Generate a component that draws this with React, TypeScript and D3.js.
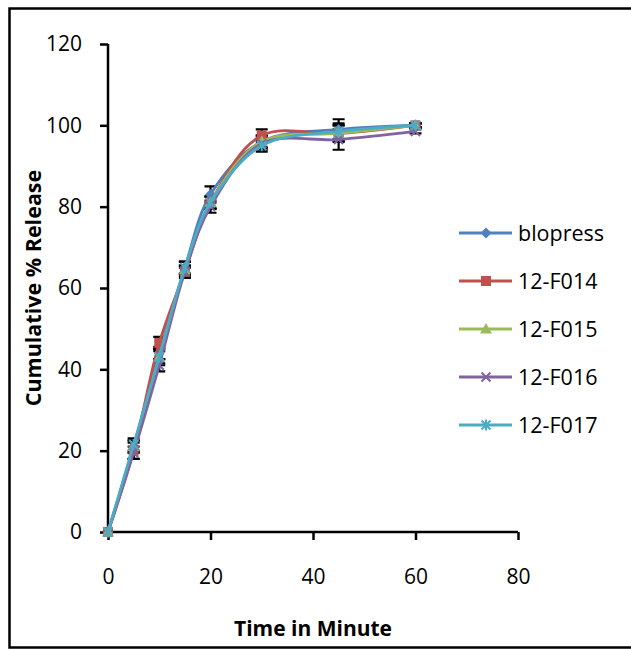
import { useEffect, useRef } from 'react';
import * as d3 from 'd3';

const times = [0, 5, 10, 15, 20, 30, 45, 60];
const seriesNames = ['blopress', '12-F014', '12-F015', '12-F016', '12-F017'];
const blopress = [0, 21, 44, 65, 83, 96, 99, 100];
const f014 = [0, 20, 46.5, 64, 81, 97.5, 98, 100];
const f015 = [0, 21, 43, 64.5, 81, 96, 98, 100];
const f016 = [0, 19.5, 41, 64, 80, 95.5, 96.5, 98.5];
const f017 = [0, 21.5, 43, 65, 81, 95, 98.5, 100];
const blopressErr = [0, 1.5, 1.5, 1.5, 2, 1.5, 2.5, 0.5];
const f014Err = [0, 2, 1.5, 1.5, 1.5, 1.5, 2, 0.5];
const f015Err = [0, 1.5, 1.5, 1, 1.5, 1.5, 2, 0.5];
const f016Err = [0, 1.5, 1.5, 1, 1.5, 1.5, 2.5, 0.5];
const f017Err = [0, 1.5, 2, 1.5, 1.5, 1.5, 2, 0.5];
const yTicks = [0, 20, 40, 60, 80, 100, 120];
const xTicks = [0, 20, 40, 60, 80];

const colors = ['#4F81BD', '#C0504D', '#9BBB59', '#8064A2', '#4BACC6'];
const markers = ['diamond', 'square', 'triangle', 'x', 'star'];

export default function App() {
  const svgRef = useRef<SVGSVGElement>(null);

  useEffect(() => {
    const svg = d3.select(svgRef.current);
    svg.selectAll('*').remove();

    const width = 631;
    const height = 649;
    const font = '"Open Sans", Lato, sans-serif';

    svg.attr('width', width).attr('height', height);

    // outer frame
    svg.append('rect')
      .attr('x', 9.5).attr('y', 8.5)
      .attr('width', 640).attr('height', 639)
      .attr('fill', 'white')
      .attr('stroke', '#000').attr('stroke-width', 2.5);

    const x = d3.scaleLinear().domain([0, 80]).range([108, 518]);
    const y = d3.scaleLinear().domain([0, 120]).range([532, 44]);

    const g = svg.append('g');

    // axes
    const xAxis = g.append('g')
      .attr('transform', `translate(0,${y(0)})`)
      .call(d3.axisBottom(x).tickValues(xTicks).tickSize(8).tickPadding(29));
    const yAxis = g.append('g')
      .attr('transform', `translate(${x(0)},0)`)
      .call(d3.axisLeft(y).tickValues(yTicks).tickSize(8).tickPadding(18));
    [xAxis, yAxis].forEach(a => {
      a.select('.domain').attr('stroke', '#000').attr('stroke-width', 2.5);
      a.selectAll('.tick line').attr('stroke', '#000').attr('stroke-width', 2.5);
      a.selectAll('.tick text')
        .attr('fill', '#000')
        .style('font-family', font)
        .style('font-size', '21px');
    });
    yAxis.select('.domain').attr('d', `M0,${y(120)}H0V${y(0)}`);
    xAxis.select('.domain').attr('d', `M${x(0)},0H${x(80)}`);

    const allSeries = [
      { name: seriesNames[0], values: blopress, err: blopressErr },
      { name: seriesNames[1], values: f014, err: f014Err },
      { name: seriesNames[2], values: f015, err: f015Err },
      { name: seriesNames[3], values: f016, err: f016Err },
      { name: seriesNames[4], values: f017, err: f017Err },
    ];

    // error bars
    const eb = g.append('g');
    allSeries.forEach(s => {
      s.values.forEach((v, i) => {
        const e = s.err[i];
        if (!e) return;
        const cx = x(times[i]);
        eb.append('path')
          .attr('d', `M${cx},${y(v - e)}V${y(v + e)}M${cx - 6},${y(v - e)}H${cx + 6}M${cx - 6},${y(v + e)}H${cx + 6}`)
          .attr('stroke', '#000').attr('stroke-width', 2.2).attr('fill', 'none');
      });
    });

    const line = d3.line<number>()
      .x((_, i) => x(times[i]))
      .y(d => y(d))
      .curve(d3.curveCatmullRom.alpha(0.5));

    const drawMarker = (sel: any, type: string, cx: number, cy: number, color: string) => {
      if (type === 'diamond') {
        sel.append('path')
          .attr('d', `M${cx},${cy - 5.5}L${cx + 5.5},${cy}L${cx},${cy + 5.5}L${cx - 5.5},${cy}Z`)
          .attr('fill', color);
      } else if (type === 'square') {
        sel.append('rect')
          .attr('x', cx - 5).attr('y', cy - 5).attr('width', 10).attr('height', 10)
          .attr('fill', color);
      } else if (type === 'triangle') {
        sel.append('path')
          .attr('d', `M${cx},${cy - 6}L${cx + 6},${cy + 4.5}L${cx - 6},${cy + 4.5}Z`)
          .attr('fill', color);
      } else if (type === 'x') {
        sel.append('path')
          .attr('d', `M${cx - 4.5},${cy - 4.5}L${cx + 4.5},${cy + 4.5}M${cx - 4.5},${cy + 4.5}L${cx + 4.5},${cy - 4.5}`)
          .attr('stroke', color).attr('stroke-width', 2).attr('fill', 'none');
      } else {
        sel.append('path')
          .attr('d', `M${cx - 4.5},${cy - 4.5}L${cx + 4.5},${cy + 4.5}M${cx - 4.5},${cy + 4.5}L${cx + 4.5},${cy - 4.5}M${cx},${cy - 5.5}V${cy + 5.5}`)
          .attr('stroke', color).attr('stroke-width', 2).attr('fill', 'none');
      }
    };

    allSeries.forEach((s, si) => {
      const sg = g.append('g');
      sg.append('path')
        .datum(s.values)
        .attr('d', line)
        .attr('fill', 'none')
        .attr('stroke', colors[si])
        .attr('stroke-width', 2.8);
      s.values.forEach((v, i) => drawMarker(sg, markers[si], x(times[i]), y(v), colors[si]));
    });

    // legend
    const legend = svg.append('g');
    allSeries.forEach((s, si) => {
      const ly = 233 + si * 48;
      legend.append('line')
        .attr('x1', 459).attr('x2', 512).attr('y1', ly).attr('y2', ly)
        .attr('stroke', colors[si]).attr('stroke-width', 2.8);
      drawMarker(legend, markers[si], 486, ly, colors[si]);
      legend.append('text')
        .attr('x', 518).attr('y', ly)
        .attr('dy', '0.36em')
        .style('font-family', font)
        .style('font-size', '21.5px')
        .text(s.name);
    });

    // axis titles
    svg.append('text')
      .attr('x', 313).attr('y', 628)
      .attr('dy', '0.36em')
      .attr('text-anchor', 'middle')
      .style('font-family', font)
      .style('font-size', '21px')
      .style('font-weight', 'bold')
      .text('Time in Minute');

    svg.append('text')
      .attr('transform', 'translate(33,288) rotate(-90)')
      .attr('dy', '0.36em')
      .attr('text-anchor', 'middle')
      .style('font-family', font)
      .style('font-size', '21.5px')
      .style('font-weight', 'bold')
      .text('Cumulative % Release');
  }, []);

  return (
    <svg ref={svgRef} style={{ position: 'absolute', left: 0, top: 0, display: 'block' }}></svg>
  );
}
